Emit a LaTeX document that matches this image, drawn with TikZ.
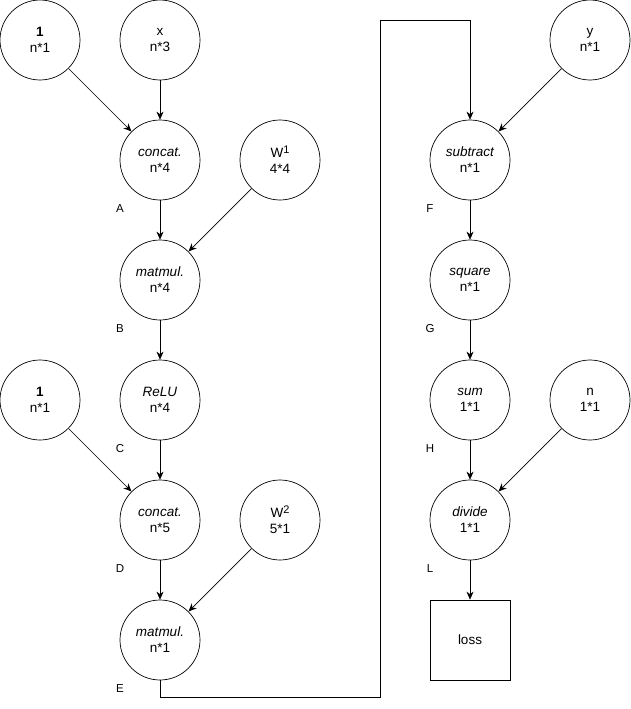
\documentclass[tikz,border=0pt]{standalone}
\usepackage{fontspec}
\setmainfont{Liberation Sans}
\usetikzlibrary{arrows.meta,calc}

\begin{document}
\begin{tikzpicture}[
  x=1pt, y=-1pt,
  >={Stealth[length=8pt, width=7pt, inset=2.5pt]},
  op/.style={circle, draw, line width=0.7pt, minimum size=80pt, inner sep=0pt,
             align=center, font=\fontsize{13.5}{16}\selectfont},
  result/.style={rectangle, draw, line width=0.7pt, minimum size=80pt,
                 inner sep=0pt, font=\fontsize{13.5}{16}\selectfont},
  flow/.style={->, line width=0.7pt},
  tag/.style={font=\fontsize{11.5}{13}\selectfont, inner sep=0pt}
]
\newcommand{\opn}[2]{\textit{#1}\\#2}
\newcommand{\upidx}[1]{\raisebox{0.55ex}{\fontsize{11}{13}\selectfont #1}}

\useasboundingbox (0,0) rectangle (631,709);

% ---------- Inputs ----------
\node[op] (oneA) at (40,40)   {\textbf{1}\\n*1};
\node[op] (X)    at (160,40)  {x\\n*3};
\node[op] (WA)   at (280,160) {W\upidx{1}\\4*4};
\node[op] (oneB) at (40,400)  {\textbf{1}\\n*1};
\node[op] (WB)   at (280,520) {W\upidx{2}\\5*1};
\node[op] (Y)    at (590,40)  {y\\n*1};
\node[op] (N)    at (590,400) {n\\1*1};

% ---------- Operations ----------
\node[op] (A) at (160,160) {\opn{concat.}{n*4}};
\node[op] (B) at (160,280) {\opn{matmul.}{n*4}};
\node[op] (C) at (160,400) {\opn{ReLU}{n*4}};
\node[op] (D) at (160,520) {\opn{concat.}{n*5}};
\node[op] (E) at (160,640) {\opn{matmul.}{n*1}};
\node[op] (F) at (470,160) {\opn{subtract}{n*1}};
\node[op] (G) at (470,280) {\opn{square}{n*1}};
\node[op] (H) at (470,400) {\opn{sum}{1*1}};
\node[op] (L) at (470,520) {\opn{divide}{1*1}};
\node[result] (loss) at (470,640) {loss};

% ---------- Tags ----------
\foreach \t in {A,B,C,D,E,F,G,H,L}
  \node[tag] (tag\t) at ($(\t)+(-40,49)$) {\t};

% ---------- Connectors ----------
\draw[flow] (oneA) -- (A);
\draw[flow] (X) -- (A);
\draw[flow] (A) -- (B);
\draw[flow] (WA) -- (B);
\draw[flow] (B) -- (C);
\draw[flow] (C) -- (D);
\draw[flow] (oneB) -- (D);
\draw[flow] (D) -- (E);
\draw[flow] (WB) -- (E);

\coordinate (bendA) at (380,697);
\coordinate (bendB) at (380,20);
\draw[flow] (E.south) |- (bendA) -- (bendB) -| (F.north);

\draw[flow] (Y) -- (F);
\draw[flow] (F) -- (G);
\draw[flow] (G) -- (H);
\draw[flow] (H) -- (L);
\draw[flow] (N) -- (L);
\draw[flow] (L) -- (loss);

\end{tikzpicture}
\end{document}
